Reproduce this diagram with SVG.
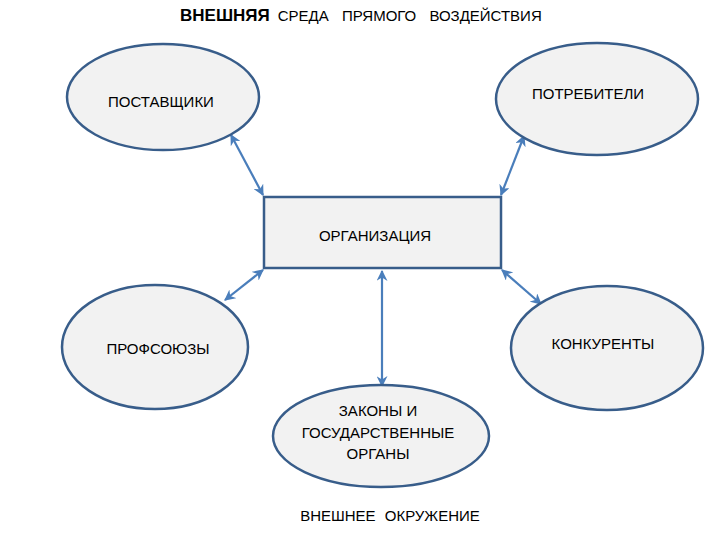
<svg xmlns="http://www.w3.org/2000/svg" width="720" height="540" viewBox="0 0 720 540">
<style>
.node{fill:#f2f2f2;stroke:#385d8a;stroke-width:2.5}
.lbl{font-family:"Liberation Sans",Arial,sans-serif;font-size:15px;fill:#000;text-anchor:middle}
.conn{stroke:#4a7ebb;stroke-width:2.2;fill:none;marker-start:url(#ah);marker-end:url(#ah)}
</style>
<defs>
<marker id="ah" viewBox="0 0 10 10" refX="9" refY="5" markerWidth="5" markerHeight="5" orient="auto-start-reverse" markerUnits="strokeWidth">
<path d="M0,0 L10,5 L0,10 L3,5 Z" fill="#4a7ebb"/>
</marker>
</defs>
<rect width="720" height="540" fill="#fff"/>
<text x="180" y="21" font-family="Liberation Sans,Arial,sans-serif" fill="#000"><tspan font-weight="bold" font-size="17">ВНЕШНЯЯ</tspan><tspan font-size="15" dx="8" word-spacing="9">СРЕДА ПРЯМОГО ВОЗДЕЙСТВИЯ</tspan></text>
<g id="connectors">
<line class="conn" x1="231" y1="135" x2="263" y2="195"/>
<line class="conn" x1="524" y1="136" x2="501" y2="195"/>
<line class="conn" x1="263" y1="270" x2="225" y2="300"/>
<line class="conn" x1="502" y1="270" x2="541" y2="304"/>
<line class="conn" x1="382" y1="271" x2="382" y2="386"/>
</g>
<g id="postavshchiki">
<ellipse class="node" cx="163" cy="97" rx="96" ry="53"/>
<text class="lbl" x="161" y="107">ПОСТАВЩИКИ</text>
</g>
<g id="potrebiteli">
<ellipse class="node" cx="597" cy="99" rx="101" ry="56"/>
<text class="lbl" x="588" y="99">ПОТРЕБИТЕЛИ</text>
</g>
<g id="organizatsiya">
<rect class="node" x="264" y="197" width="237" height="71"/>
<text class="lbl" x="375" y="241">ОРГАНИЗАЦИЯ</text>
</g>
<g id="profsoyuzy">
<ellipse class="node" cx="155" cy="347" rx="93" ry="62"/>
<text class="lbl" x="158" y="354">ПРОФСОЮЗЫ</text>
</g>
<g id="konkurenty">
<ellipse class="node" cx="607" cy="348" rx="96" ry="62"/>
<text class="lbl" x="603" y="349">КОНКУРЕНТЫ</text>
</g>
<g id="zakony">
<ellipse class="node" cx="381" cy="436" rx="108" ry="51"/>
<text class="lbl" x="378" y="416">ЗАКОНЫ И</text>
<text class="lbl" x="378" y="438">ГОСУДАРСТВЕННЫЕ</text>
<text class="lbl" x="378" y="459">ОРГАНЫ</text>
</g>
<text class="lbl" x="390" y="521" word-spacing="5">ВНЕШНЕЕ ОКРУЖЕНИЕ</text>
</svg>
